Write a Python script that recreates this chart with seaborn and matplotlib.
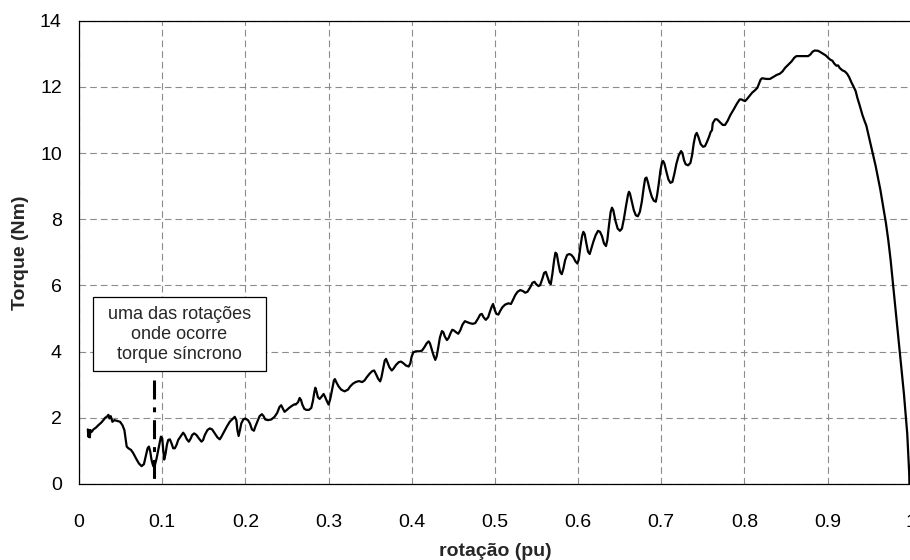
import matplotlib
matplotlib.use("Agg")
import matplotlib.pyplot as plt
import matplotlib.patches as mpatches
import seaborn as sns
import pandas as pd

# ---- data ----
rotacao = [
    0.0104, 0.0112, 0.0120, 0.0128, 0.0136, 0.0152, 0.0172, 0.0200, 0.0232, 0.0264,
    0.0292, 0.0312, 0.0332, 0.0352, 0.0364, 0.0380, 0.0400, 0.0424, 0.0452, 0.0492,
    0.0520, 0.0544, 0.0560, 0.0572, 0.0592, 0.0624, 0.0651, 0.0691, 0.0719, 0.0751,
    0.0779, 0.0799, 0.0823, 0.0839, 0.0855, 0.0871, 0.0891, 0.0911, 0.0931, 0.0951,
    0.0971, 0.0983, 0.0999, 0.1011, 0.1023, 0.1039, 0.1055, 0.1071, 0.1091, 0.1111,
    0.1131, 0.1151, 0.1171, 0.1191, 0.1223, 0.1251, 0.1271, 0.1295, 0.1319, 0.1343,
    0.1359, 0.1383, 0.1411, 0.1439, 0.1471, 0.1491, 0.1511, 0.1543, 0.1571, 0.1599,
    0.1631, 0.1663, 0.1691, 0.1711, 0.1743, 0.1775, 0.1811, 0.1851, 0.1871, 0.1891,
    0.1903, 0.1918, 0.1934, 0.1950, 0.1974, 0.1998, 0.2030, 0.2054, 0.2078, 0.2102,
    0.2118, 0.2142, 0.2170, 0.2198, 0.2218, 0.2238, 0.2270, 0.2310, 0.2350, 0.2382,
    0.2410, 0.2430, 0.2450, 0.2470, 0.2494, 0.2530, 0.2570, 0.2590,
    0.2604, 0.2632, 0.2652, 0.2668, 0.2684, 0.2708, 0.2732, 0.2764, 0.2792, 0.2812,
    0.2828, 0.2840, 0.2852, 0.2872, 0.2892, 0.2916, 0.2940, 0.2960, 0.2980, 0.3000,
    0.3020, 0.3044, 0.3064, 0.3076, 0.3092, 0.3120, 0.3152, 0.3192, 0.3232, 0.3260,
    0.3292, 0.3324, 0.3364, 0.3404, 0.3432, 0.3460, 0.3492, 0.3524, 0.3548, 0.3572,
    0.3596, 0.3620, 0.3636, 0.3655, 0.3675, 0.3691, 0.3707, 0.3731, 0.3759, 0.3779,
    0.3811, 0.3843, 0.3871, 0.3899, 0.3931, 0.3963, 0.3983, 0.3999, 0.4019, 0.4051,
    0.4091, 0.4123, 0.4151, 0.4179, 0.4203, 0.4219, 0.4239, 0.4263, 0.4283, 0.4299,
    0.4319, 0.4339, 0.4363, 0.4379, 0.4399, 0.4423, 0.4443, 0.4467, 0.4487, 0.4507,
    0.4531, 0.4559, 0.4583, 0.4611, 0.4639, 0.4667, 0.4699, 0.4731, 0.4763, 0.4795,
    0.4823, 0.4843, 0.4863, 0.4891, 0.4919, 0.4942, 0.4962, 0.4978, 0.4998, 0.5018,
    0.5042, 0.5066, 0.5090, 0.5122, 0.5162,
    0.5193, 0.5217, 0.5245, 0.5273, 0.5305, 0.5337, 0.5365, 0.5392, 0.5424, 0.5452,
    0.5476, 0.5496, 0.5524, 0.5544, 0.5572, 0.5592, 0.5612, 0.5632, 0.5656, 0.5672,
    0.5692, 0.5712, 0.5728, 0.5744, 0.5764, 0.5784, 0.5804, 0.5824, 0.5844, 0.5868,
    0.5896, 0.5920, 0.5944, 0.5968, 0.5992, 0.6008, 0.6028, 0.6048, 0.6064, 0.6080,
    0.6100, 0.6120, 0.6140, 0.6160, 0.6184, 0.6212, 0.6240, 0.6264, 0.6288, 0.6312,
    0.6336, 0.6352, 0.6372, 0.6392, 0.6408, 0.6424, 0.6448, 0.6476, 0.6504, 0.6528,
    0.6552, 0.6576, 0.6600, 0.6612, 0.6624, 0.6647, 0.6671, 0.6695, 0.6719, 0.6743,
    0.6767, 0.6791, 0.6807, 0.6823, 0.6839, 0.6863, 0.6887, 0.6911, 0.6935, 0.6951,
    0.6971, 0.6991, 0.7011, 0.7023, 0.7039, 0.7063, 0.7087, 0.7111, 0.7135, 0.7159,
    0.7183, 0.7211, 0.7239, 0.7255, 0.7275, 0.7295, 0.7323, 0.7351, 0.7371, 0.7391,
    0.7411, 0.7427, 0.7447, 0.7475, 0.7503, 0.7527, 0.7551, 0.7575, 0.7595, 0.7611,
    0.7620, 0.7648, 0.7672, 0.7700, 0.7740, 0.7768, 0.7800, 0.7832, 0.7872, 0.7912,
    0.7944, 0.7968,
    0.7988, 0.8008, 0.8028, 0.8060, 0.8092, 0.8128, 0.8156, 0.8180, 0.8196, 0.8212,
    0.8236, 0.8268, 0.8308, 0.8348, 0.8388, 0.8428, 0.8460, 0.8488, 0.8528, 0.8568,
    0.8600, 0.8627, 0.8667, 0.8727, 0.8767, 0.8795, 0.8819, 0.8847, 0.8887, 0.8915,
    0.8947, 0.8979, 0.9007, 0.9035, 0.9059, 0.9083, 0.9107, 0.9127, 0.9147, 0.9179,
    0.9207, 0.9235, 0.9259, 0.9287, 0.9315, 0.9339, 0.9359, 0.9387, 0.9419, 0.9447,
    0.9467, 0.9487, 0.9515, 0.9547, 0.9579, 0.9607, 0.9635, 0.9655,
    0.9671, 0.9703, 0.9731, 0.9759, 0.9783, 0.9803, 0.9823, 0.9847, 0.9871, 0.9895,
    0.9919, 0.9939, 0.9959, 0.9971, 0.9983, 0.9985,
]
torque = [
    1.65, 1.43, 1.63, 1.41, 1.63, 1.58, 1.65, 1.70, 1.78, 1.85,
    1.93, 2.00, 2.03, 2.09, 1.98, 2.05, 1.88, 1.93, 1.91, 1.88,
    1.78, 1.63, 1.33, 1.13, 1.08, 1.03, 0.93, 0.74, 0.62, 0.54,
    0.60, 0.82, 1.08, 1.13, 0.98, 0.72, 0.54, 0.57, 0.77, 1.03,
    1.28, 1.43, 1.38, 1.03, 0.74, 0.91, 1.18, 1.33, 1.35, 1.23,
    1.08, 1.08, 1.18, 1.33, 1.45, 1.55, 1.48, 1.35, 1.28, 1.38,
    1.48, 1.53, 1.48, 1.38, 1.28, 1.33, 1.48, 1.63, 1.68, 1.65,
    1.53, 1.41, 1.35, 1.43, 1.58, 1.73, 1.88, 1.98, 2.03, 1.93,
    1.63, 1.45, 1.63, 1.83, 1.95, 1.98, 1.93, 1.83, 1.65, 1.61,
    1.73, 1.88, 2.05, 2.11, 2.05, 1.95, 1.93, 1.95, 2.03, 2.15,
    2.33, 2.38, 2.28, 2.18, 2.23, 2.31, 2.38, 2.41,
    2.40, 2.47, 2.60, 2.54, 2.40, 2.27, 2.24, 2.24, 2.30, 2.52,
    2.77, 2.91, 2.82, 2.62, 2.57, 2.64, 2.72, 2.62, 2.50, 2.40,
    2.57, 2.88, 3.13, 3.17, 3.08, 2.95, 2.85, 2.80, 2.85, 2.95,
    3.03, 3.08, 3.11, 3.08, 3.13, 3.23, 3.33, 3.41, 3.43, 3.31,
    3.18, 3.10, 3.23, 3.48, 3.73, 3.78, 3.68, 3.53, 3.43, 3.48,
    3.60, 3.68, 3.70, 3.65, 3.58, 3.55, 3.65, 3.85, 3.98, 4.01,
    4.01, 4.03, 4.13, 4.25, 4.31, 4.25, 4.08, 3.88, 3.75, 3.85,
    4.13, 4.43, 4.62, 4.59, 4.45, 4.35, 4.41, 4.56, 4.66, 4.64,
    4.59, 4.54, 4.64, 4.82, 4.92, 4.89, 4.86, 4.84, 4.86, 4.99,
    5.12, 5.14, 5.04, 4.96, 5.04, 5.22, 5.36, 5.44, 5.26, 5.14,
    5.12, 5.24, 5.34, 5.42, 5.46,
    5.44, 5.56, 5.71, 5.81, 5.86, 5.83, 5.78, 5.81, 5.94, 6.08,
    6.11, 6.04, 5.98, 6.01, 6.21, 6.38, 6.41, 6.26, 6.08, 6.04,
    6.36, 6.76, 6.99, 6.95, 6.66, 6.41, 6.34, 6.51, 6.76, 6.92,
    6.95, 6.92, 6.85, 6.73, 6.66, 6.78, 7.17, 7.49, 7.62, 7.55,
    7.27, 7.02, 6.95, 7.12, 7.32, 7.52, 7.65, 7.62, 7.49, 7.27,
    7.19, 7.37, 7.82, 8.22, 8.35, 8.27, 7.97, 7.72, 7.65, 7.72,
    8.02, 8.39, 8.73, 8.83, 8.78, 8.53, 8.27, 8.12, 8.09, 8.22,
    8.53, 8.98, 9.23, 9.26, 9.13, 8.88, 8.68, 8.56, 8.53, 8.73,
    9.08, 9.48, 9.73, 9.76, 9.68, 9.43, 9.20, 9.10, 9.13, 9.38,
    9.68, 9.93, 10.06, 10.00, 9.78, 9.66, 9.63, 9.70, 9.93, 10.29,
    10.54, 10.61, 10.49, 10.27, 10.19, 10.21, 10.34, 10.49, 10.64, 10.69,
    10.90, 11.02, 11.02, 10.95, 10.85, 10.85, 10.98, 11.15, 11.32, 11.50,
    11.62, 11.62,
    11.59, 11.57, 11.62, 11.72, 11.82, 11.90, 11.97, 12.12, 12.22, 12.26,
    12.25, 12.24, 12.24, 12.30, 12.36, 12.40, 12.47, 12.57, 12.67, 12.77,
    12.88, 12.93, 12.93, 12.93, 12.93, 12.98, 13.06, 13.10, 13.09, 13.05,
    13.00, 12.95, 12.88, 12.82, 12.79, 12.70, 12.64, 12.65, 12.57, 12.50,
    12.47, 12.40, 12.30, 12.14, 12.00, 11.87, 11.67, 11.44, 11.16, 10.96,
    10.83, 10.61, 10.31, 9.96, 9.61, 9.25, 8.90, 8.60,
    8.38, 7.88, 7.37, 6.77, 6.16, 5.66, 5.15, 4.55, 3.94, 3.33,
    2.73, 2.12, 1.52, 0.91, 0.30, 0.0,
]
x_ticks = [0, 0.1, 0.2, 0.3, 0.4, 0.5, 0.6, 0.7, 0.8, 0.9, 1.0]
x_tick_labels = ["0", "0.1", "0.2", "0.3", "0.4", "0.5", "0.6", "0.7", "0.8", "0.9", "1"]
y_ticks = [0, 2, 4, 6, 8, 10, 12, 14]
y_tick_labels = ["0", "2", "4", "6", "8", "10", "12", "14"]
marker_x = 0.09            # rotation of the synchronous torque marker
marker_y = [3.15, 0.0]
note_text = "uma das rotações\nonde ocorre\ntorque síncrono"

sns.set_style("white")
plt.rcParams["font.family"] = ["Liberation Sans", "DejaVu Sans"]

fig = plt.figure(figsize=(9.1, 5.6), dpi=100)
ax = fig.add_axes([79.15 / 910, 76 / 560, 831.5 / 910, 463.3 / 560])

df = pd.DataFrame({"rotacao": rotacao, "torque": torque})
sns.lineplot(data=df, x="rotacao", y="torque", ax=ax, color="black",
             linewidth=1.6, estimator=None, sort=False, zorder=3)

# marker line (dash-dot)
ax.plot([marker_x, marker_x], marker_y, color="black", linewidth=2.2,
        linestyle=(0, (6.2, 2.6, 1.6, 2.6)), solid_capstyle="butt",
        dash_capstyle="butt", zorder=4, clip_on=False)

ax.set_xlim(0, 1)
ax.set_ylim(0, 14)
ax.set_xticks(x_ticks)
ax.set_xticklabels(x_tick_labels)
ax.set_yticks(y_ticks)
ax.set_yticklabels(y_tick_labels)

ax.grid(True, color="#8c8c8c", linewidth=0.8, linestyle=(0, (6, 3.6)))
ax.set_axisbelow(True)

for s in ax.spines.values():
    s.set_color("black")
    s.set_linewidth(0.9)

ax.tick_params(axis="both", direction="out", length=4.5, width=0.8,
               colors="black", labelsize=14)
ax.tick_params(axis="x", pad=17)
ax.tick_params(axis="y", pad=8)

ax.set_xlabel("rotação (pu)", fontsize=14, fontweight="bold")
ax.set_ylabel("Torque (Nm)", fontsize=14, fontweight="bold")
ax.xaxis.set_label_coords(0.5, -0.146)
ax.xaxis.label.set_va("center")
ax.yaxis.set_label_coords(-0.071, 0.5)
ax.yaxis.label.set_va("center")

# annotation box
rect = mpatches.Rectangle((0.0172, 3.41), 0.2072, 2.24, transform=ax.transData,
                          facecolor="white", edgecolor="black", linewidth=0.9,
                          zorder=5)
ax.add_patch(rect)
ax.text(0.1207, 4.51, note_text, ha="center", va="center", fontsize=13,
        linespacing=1.22, zorder=6)

fig.savefig("out.png", dpi=100, facecolor="white")
